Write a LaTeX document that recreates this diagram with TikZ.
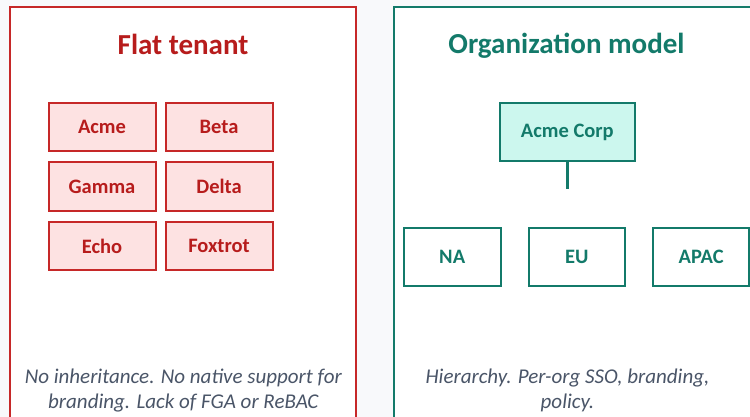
\documentclass[tikz,border=0pt]{standalone}
\usepackage{fontspec}
\setmainfont{Carlito}
\definecolor{pagebg}{HTML}{F8F9FB}
\definecolor{flatred}{HTML}{C62828}
\definecolor{flattext}{HTML}{B71C1C}
\definecolor{flatfill}{HTML}{FDE2E2}
\definecolor{orgteal}{HTML}{137A6A}
\definecolor{orgfill}{HTML}{CCF7EE}
\definecolor{notegray}{HTML}{4A5568}
\tikzset{
  panel/.style={line width=2pt, fill=white},
  paneltitle/.style={font=\fontsize{29}{34}\selectfont\bfseries, anchor=base, inner sep=0pt},
  tenantbox/.style={draw=flatred, fill=flatfill, line width=2pt,
    minimum width=107pt, minimum height=48.5pt, inner sep=0pt,
    text=flattext, font=\fontsize{20.5}{24}\selectfont\bfseries},
  orgbox/.style={draw=orgteal, line width=2pt, minimum height=58pt, inner sep=0pt,
    text=orgteal, font=\fontsize{20.5}{24}\selectfont\bfseries},
  note/.style={text=notegray, align=center, anchor=north, inner sep=0pt,
    font=\fontsize{21}{24.5}\selectfont\itshape},
}
\begin{document}
\begin{tikzpicture}[x=1pt, y=-1pt]
  \useasboundingbox (0,0) rectangle (750,417);
  \fill[pagebg] (0,0) rectangle (750,417);
  \begin{scope}
    \clip (0,0) rectangle (750,417);
    % panels
    \draw[panel, draw=flatred] (10,7) rectangle (356,440);
    \draw[panel, draw=orgteal] (394,7) rectangle (770,440);

    % flat tenant side
    \node[paneltitle, text=flattext] (flattitle) at (183,54.3) {Flat tenant};
    \node[tenantbox] (acme)    at (102,127)   {Acme};
    \node[tenantbox] (beta)    at (219,127)   {Beta};
    \node[tenantbox] (gamma)   at (102,186.5) {Gamma};
    \node[tenantbox] (delta)   at (219,186.5) {Delta};
    \node[tenantbox] (echo)    at (102,246)   {Echo};
    \node[tenantbox] (foxtrot) at (219,246)   {Foxtrot};
    \node[note] (flatnote) at (183.3,369) {No inheritance. No native support for\\branding. Lack of FGA or ReBAC};

    % organization side
    \node[paneltitle, text=orgteal] (orgtitle) at (566.5,54) {Organization model};
    \node[orgbox, fill=orgfill, minimum width=135pt] (corp) at (567.3,132) {Acme Corp};
    \coordinate (stem) at (567.3,188.7);
    \draw[orgteal, line width=3pt] (corp.south) -- (stem);
    \node[orgbox, fill=white, minimum width=97pt] (na)   at (452.2,256.7) {NA};
    \node[orgbox, fill=white, minimum width=96.5pt] (eu)   at (576.8,256.7) {EU};
    \node[orgbox, fill=white, minimum width=96pt] (apac) at (701.2,256.7) {APAC};
    \node[note] (orgnote) at (567.5,369) {Hierarchy. Per-org SSO, branding,\\policy.};
  \end{scope}
\end{tikzpicture}
\end{document}
